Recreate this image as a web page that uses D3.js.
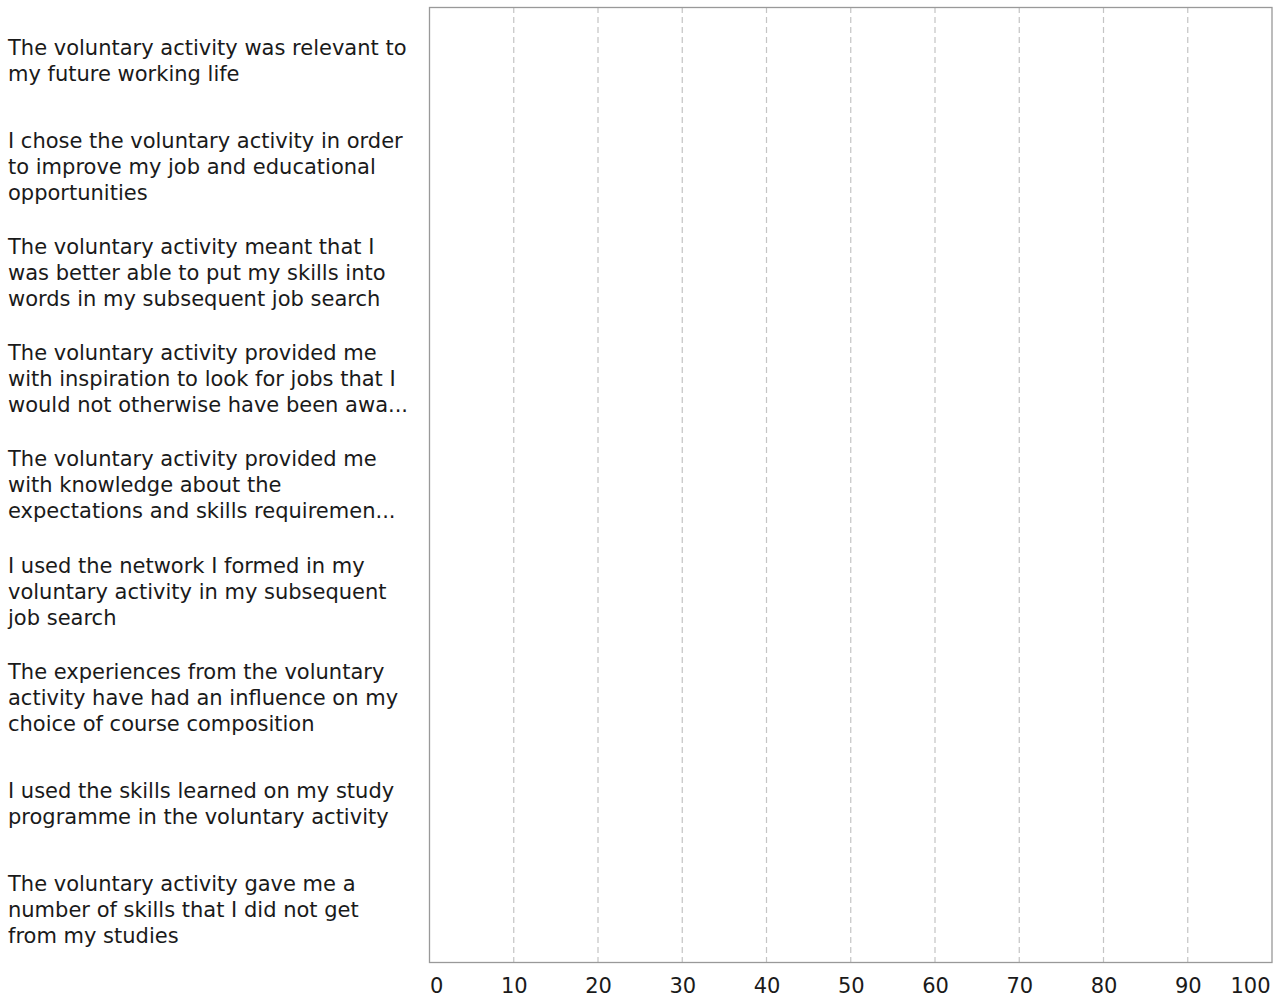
<!DOCTYPE html>
<html><head><meta charset="utf-8">
<script src="https://cdn.jsdelivr.net/npm/d3@7"></script>
<style>body{margin:0;background:#fff}svg{display:block}</style>
</head><body>
<script>
const categories = [
  "The voluntary activity was relevant to\nmy future working life",
  "I chose the voluntary activity in order\nto improve my job and educational\nopportunities",
  "The voluntary activity meant that I\nwas better able to put my skills into\nwords in my subsequent job search",
  "The voluntary activity provided me\nwith inspiration to look for jobs that I\nwould not otherwise have been awa...",
  "The voluntary activity provided me\nwith knowledge about the\nexpectations and skills requiremen...",
  "I used the network I formed in my\nvoluntary activity in my subsequent\njob search",
  "The experiences from the voluntary\nactivity have had an influence on my\nchoice of course composition",
  "I used the skills learned on my study\nprogramme in the voluntary activity",
  "The voluntary activity gave me a\nnumber of skills that I did not get\nfrom my studies"
];
const values = [];
const tickValues = [0,10,20,30,40,50,60,70,80,90,100];

const W = 1281, H = 998;
const m = {left: 429.5, right: 1272, top: 7, bottom: 962};
const svg = d3.select("body").append("svg").attr("width", W).attr("height", H);
const x = d3.scaleLinear().domain([0,100]).range([m.left, m.right]);
const y = d3.scaleBand().domain(categories).range([m.top, m.bottom]);
const font = "Verdana, 'DejaVu Sans', sans-serif";
const fs = 21;

// gridlines
svg.append("g").selectAll("line").data(tickValues.filter(d => d > 0 && d < 100)).join("line")
  .attr("x1", d => x(d)).attr("x2", d => x(d))
  .attr("y1", m.top).attr("y2", m.bottom)
  .attr("stroke", "#c4c4c4").attr("stroke-width", 1.2).attr("stroke-dasharray", "6,4");

// border
svg.append("rect").attr("x", m.left).attr("y", m.top + 0.5)
  .attr("width", m.right - m.left).attr("height", m.bottom - m.top)
  .attr("fill", "none").attr("stroke", "#999").attr("stroke-width", 1.3);

// x axis tick labels
const xa = svg.append("g").attr("transform", `translate(0,${m.bottom})`)
  .call(d3.axisBottom(x).tickValues(tickValues).tickSize(0).tickPadding(16));
xa.select(".domain").remove();
xa.selectAll("text").attr("font-family", font).attr("font-size", fs).attr("fill", "#1a1a1a");
xa.selectAll(".tick").filter(d => d === 0).select("text").attr("text-anchor", "start");
xa.selectAll(".tick").filter(d => d === 100).select("text").attr("text-anchor", "end").attr("dx", -2);

// category labels
const lh = 26;
const g = svg.append("g");
categories.forEach(c => {
  const lines = c.split("\n");
  const cy = y(c) + y.bandwidth() / 2;
  const t = g.append("text").attr("font-family", font).attr("font-size", fs).attr("fill", "#1a1a1a");
  lines.forEach((l, i) => {
    t.append("tspan").attr("x", 8)
      .attr("y", cy + (i - (lines.length - 1) / 2) * lh)
      .attr("dy", "0.38em").text(l);
  });
});
</script>
</body></html>
